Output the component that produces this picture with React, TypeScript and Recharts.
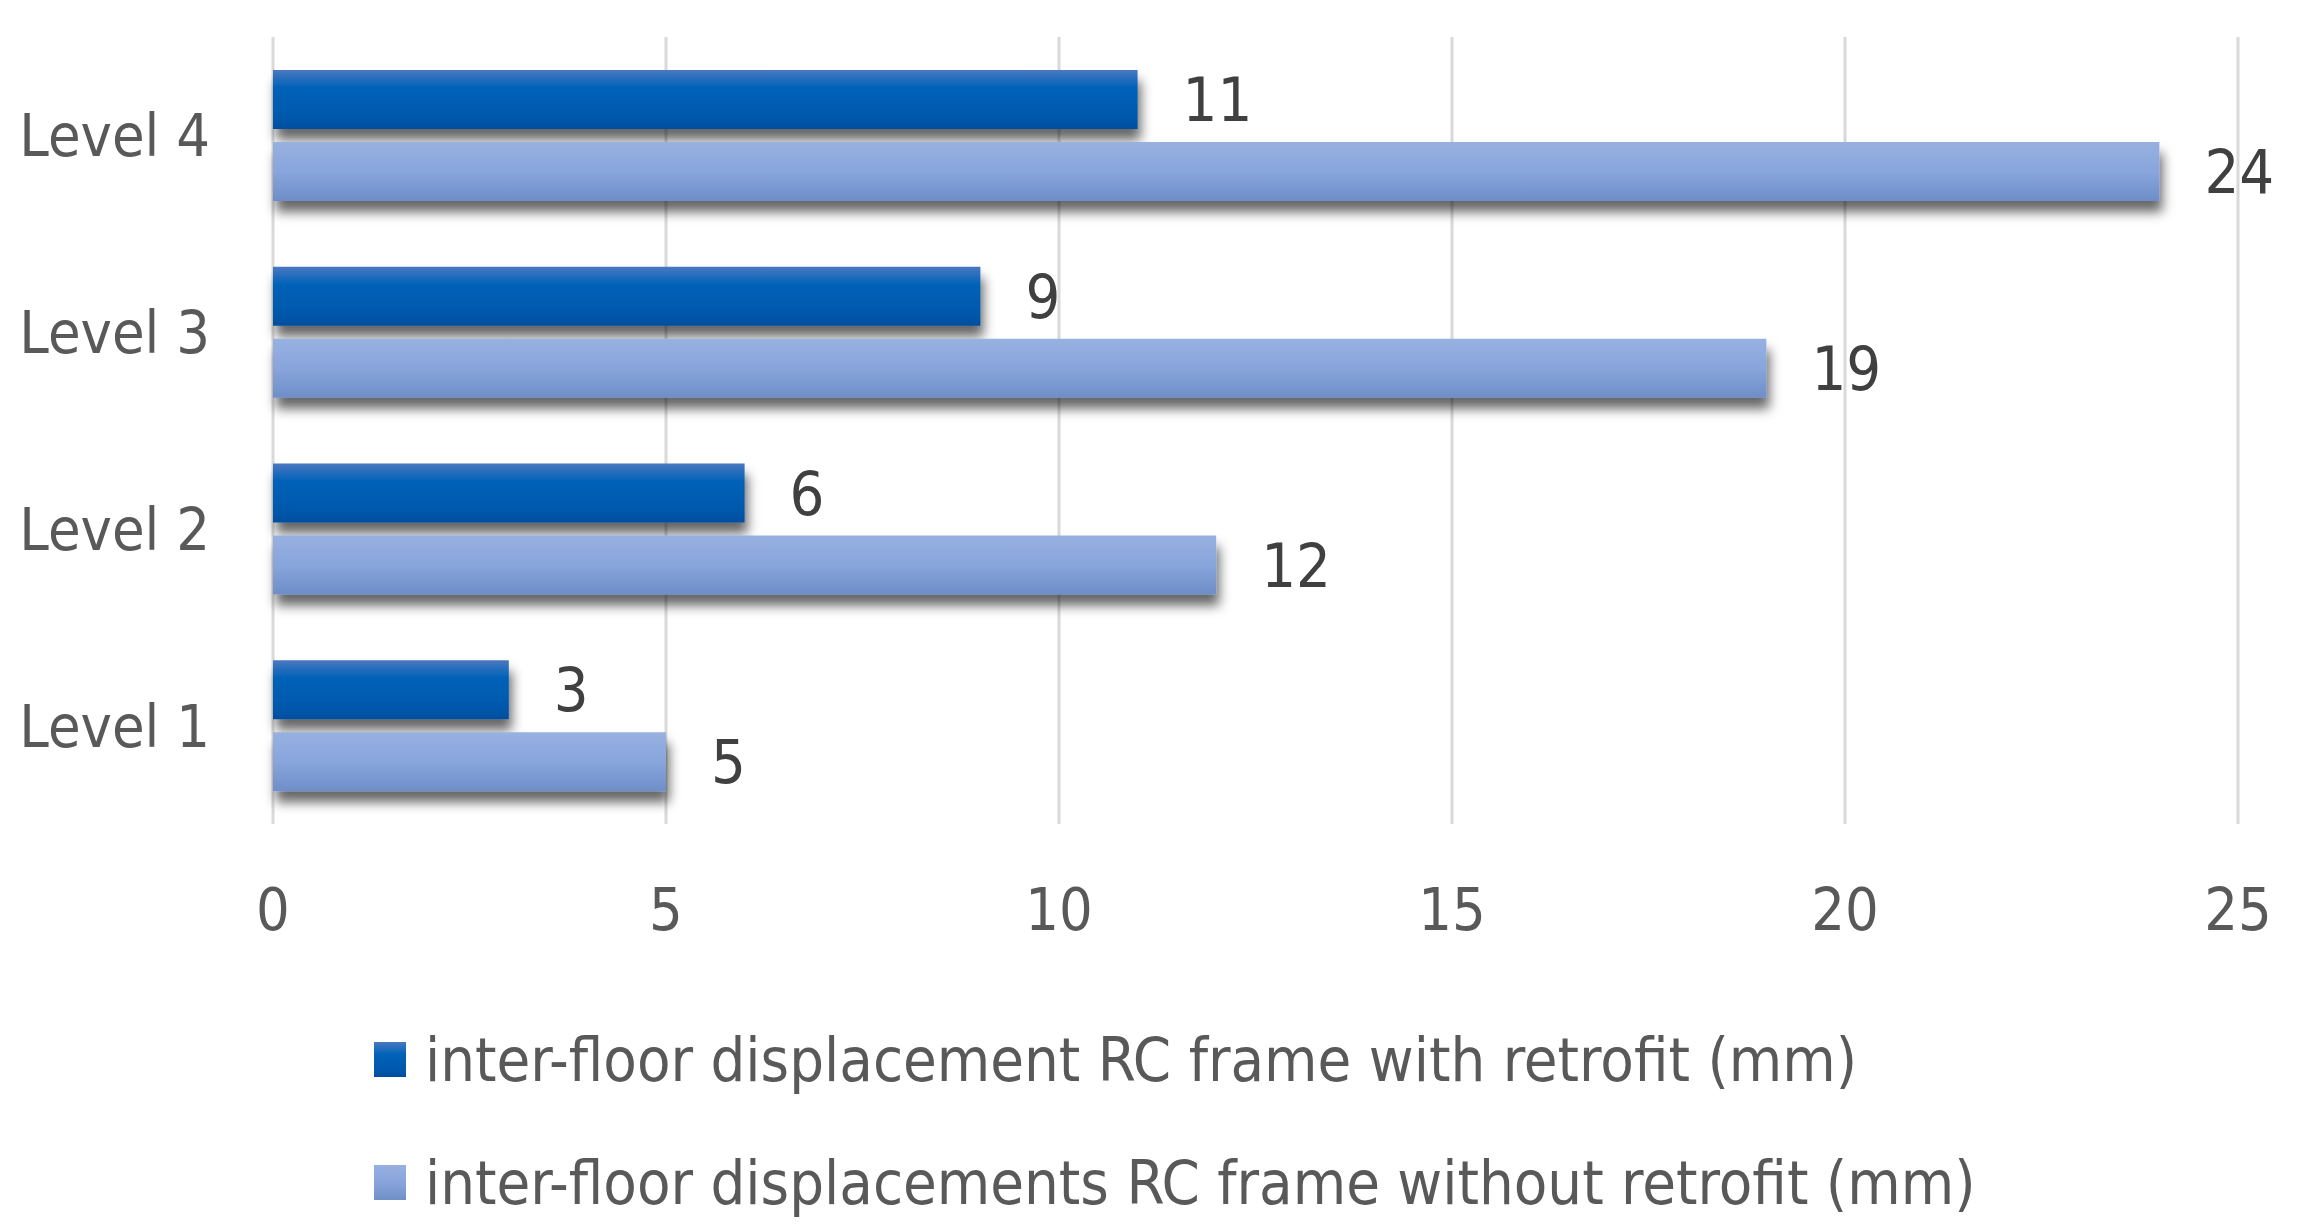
import React from 'react';
import {
  BarChart,
  Bar,
  XAxis,
  YAxis,
  CartesianGrid,
  LabelList,
} from 'recharts';

// Categories are listed top to bottom as drawn
const categories = ['Level 4', 'Level 3', 'Level 2', 'Level 1'];
const withRetrofit = [11, 9, 6, 3];
const withoutRetrofit = [24, 19, 12, 5];
const xTicks = [0, 5, 10, 15, 20, 25];
const seriesNames = [
  'inter-floor displacement RC frame with retrofit (mm)',
  'inter-floor displacements RC frame without retrofit (mm)',
];

const chartData = categories.map((level, i) => ({
  level,
  withRetrofit: withRetrofit[i],
  withoutRetrofit: withoutRetrofit[i],
}));

const FONT = '"Liberation Sans Narrow", "DejaVu Sans Condensed", "Liberation Sans", sans-serif';
const AXIS_FONT_SIZE = 59;
const LABEL_FONT_SIZE = 61;
const LEGEND_FONT_SIZE = 61;

const colors = {
  grid: '#d9d9d9',
  axisText: '#595959',
  labelText: '#404040',
};

// Bar with soft drop shadow like the Office chart style
function ShadowBar(props: any) {
  const { x, y, width, height, fill } = props;
  if (!width || width <= 0) return null;
  return (
    <rect
      x={x}
      y={y}
      width={width}
      height={height}
      fill={fill}
      filter="url(#barShadow)"
    />
  );
}

function LegendBox() {
  const swatches = [
    'linear-gradient(to bottom, #4a78c0 0%, #0062b8 35%, #0058ac 80%, #004e9e 100%)',
    'linear-gradient(to bottom, #96b0e0 0%, #88a5dc 50%, #6f8fc8 100%)',
  ];
  const centers = [1059, 1182];
  return (
    <>
      {seriesNames.map((name, i) => (
        <div
          key={name}
          style={{
            position: 'absolute',
            left: 374,
            top: centers[i] - 40,
            height: 80,
            display: 'flex',
            alignItems: 'center',
            fontFamily: FONT,
            fontSize: LEGEND_FONT_SIZE,
            color: colors.axisText,
            whiteSpace: 'nowrap',
          }}
        >
          <div style={{ width: 32, height: 35, background: swatches[i], marginRight: 19 }} />
          <span>{name}</span>
        </div>
      ))}
    </>
  );
}

export default function App() {
  return (
    <div style={{ position: 'absolute', left: 0, top: 0, width: 2300, height: 1227, background: '#ffffff' }}>
      <BarChart
        width={2300}
        height={1227}
        data={chartData}
        layout="vertical"
        margin={{ top: 37, right: 62, left: 0, bottom: 293 }}
        barSize={59}
        barGap={13}
      >
        <defs>
          <linearGradient id="gradDark" x1="0" y1="0" x2="0" y2="1">
            <stop offset="0%" stopColor="#4a78c0" />
            <stop offset="30%" stopColor="#0062b8" />
            <stop offset="80%" stopColor="#0058ac" />
            <stop offset="100%" stopColor="#004e9e" />
          </linearGradient>
          <linearGradient id="gradLight" x1="0" y1="0" x2="0" y2="1">
            <stop offset="0%" stopColor="#97b1e0" />
            <stop offset="50%" stopColor="#88a5dc" />
            <stop offset="100%" stopColor="#6e8ec8" />
          </linearGradient>
          <filter id="barShadow" x="-0.1" y="-0.6" width="1.25" height="2.4">
            <feDropShadow dx="3" dy="11" stdDeviation="6" floodColor="#000000" floodOpacity="0.6" />
          </filter>
        </defs>
        <CartesianGrid horizontal={false} stroke={colors.grid} strokeWidth={3} />
        <XAxis
          type="number"
          domain={[0, 25]}
          ticks={xTicks}
          axisLine={false}
          tickLine={false}
          tickSize={0}
          tickMargin={64}
          height={110}
          tick={{ fill: colors.axisText, fontSize: AXIS_FONT_SIZE, fontFamily: FONT }}
        />
        <YAxis
          type="category"
          dataKey="level"
          axisLine={false}
          tickLine={false}
          tickSize={0}
          tickMargin={63}
          width={273}
          tick={{ fill: colors.axisText, fontSize: AXIS_FONT_SIZE, fontFamily: FONT }}
        />
        <Bar
          dataKey="withRetrofit"
          name={seriesNames[0]}
          fill="url(#gradDark)"
          shape={<ShadowBar />}
          isAnimationActive={false}
        >
          <LabelList
            dataKey="withRetrofit"
            position="right"
            offset={45}
            fill={colors.labelText}
            fontSize={LABEL_FONT_SIZE}
            fontFamily={FONT}
          />
        </Bar>
        <Bar
          dataKey="withoutRetrofit"
          name={seriesNames[1]}
          fill="url(#gradLight)"
          shape={<ShadowBar />}
          isAnimationActive={false}
        >
          <LabelList
            dataKey="withoutRetrofit"
            position="right"
            offset={45}
            fill={colors.labelText}
            fontSize={LABEL_FONT_SIZE}
            fontFamily={FONT}
          />
        </Bar>
      </BarChart>
      <LegendBox />
    </div>
  );
}
